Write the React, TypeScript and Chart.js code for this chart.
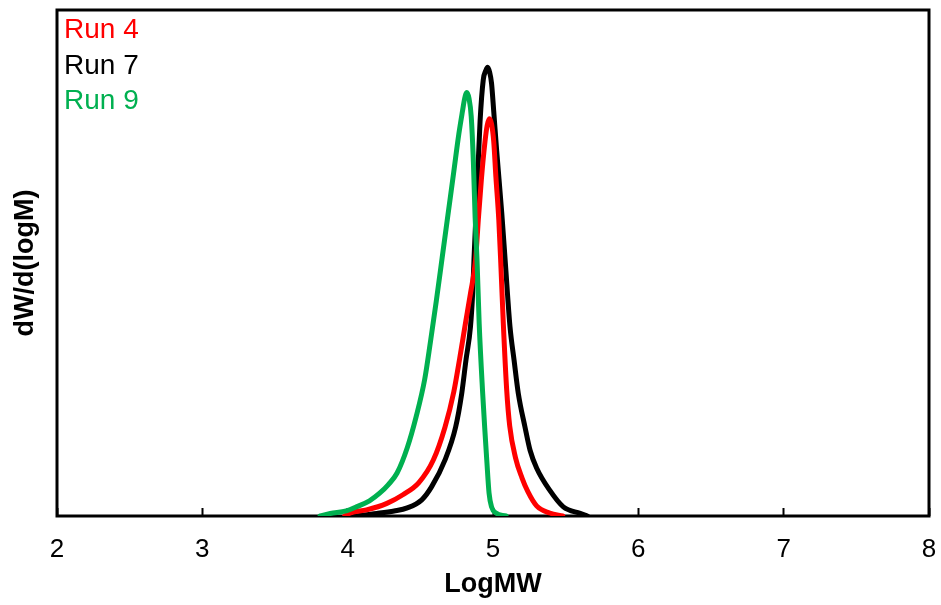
import React, { useEffect, useRef } from "react";
import { Chart, registerables } from "chart.js";

Chart.register(...registerables);

const xTicks = [2, 3, 4, 5, 6, 7, 8];
const seriesLabels = ["Run 4", "Run 7", "Run 9"];
const seriesColors = ["#FF0000", "#000000", "#00B050"];

const run4X = [3.98, 4.02, 4.13, 4.27, 4.38, 4.49, 4.59, 4.67, 4.73, 4.77, 4.81, 4.845, 4.88, 4.90, 4.92, 4.945, 4.96, 4.975, 4.99, 5.005, 5.02, 5.04, 5.055, 5.071, 5.094, 5.115, 5.155, 5.2, 5.24, 5.30, 5.39, 5.48];
const run4Y = [0, 0.006, 0.012, 0.025, 0.042, 0.066, 0.111, 0.176, 0.245, 0.31, 0.38, 0.44, 0.506, 0.59, 0.665, 0.74, 0.772, 0.785, 0.775, 0.74, 0.67, 0.585, 0.49, 0.38, 0.25, 0.178, 0.115, 0.075, 0.048, 0.02, 0.006, 0];

const run7X = [4.05, 4.2, 4.32, 4.41, 4.51, 4.578, 4.67, 4.743, 4.785, 4.814, 4.845, 4.86, 4.869, 4.888, 4.911, 4.933, 4.95, 4.963, 4.977, 4.99, 5.005, 5.025, 5.06, 5.085, 5.117, 5.145, 5.174, 5.22, 5.255, 5.30, 5.39, 5.484, 5.6, 5.65];
const run7Y = [0, 0.005, 0.01, 0.016, 0.032, 0.058, 0.111, 0.176, 0.2425, 0.308, 0.374, 0.44, 0.506, 0.63, 0.78, 0.862, 0.88, 0.887, 0.877, 0.855, 0.80, 0.723, 0.60, 0.50, 0.374, 0.308, 0.2425, 0.176, 0.13, 0.095, 0.051, 0.018, 0.005, 0];

const run9X = [3.81, 3.88, 3.99, 4.06, 4.15, 4.22, 4.28, 4.34, 4.41, 4.47, 4.53, 4.57, 4.61, 4.65, 4.69, 4.73, 4.765, 4.79, 4.805, 4.82, 4.835, 4.85, 4.865, 4.877, 4.89, 4.905, 4.929, 4.945, 4.957, 4.973, 4.99, 5.02, 5.09];
const run9Y = [0, 0.005, 0.01, 0.018, 0.03, 0.045, 0.062, 0.085, 0.135, 0.195, 0.27, 0.345, 0.425, 0.51, 0.595, 0.68, 0.755, 0.80, 0.825, 0.837, 0.825, 0.79, 0.70, 0.59, 0.506, 0.38, 0.2425, 0.165, 0.111, 0.045, 0.018, 0.006, 0];

const FONT = '"Liberation Sans", Arial, sans-serif';

function toPoints(xs: number[], ys: number[]) {
  return xs.map((x, i) => ({ x, y: ys[i] }));
}

const framePlugin = {
  id: "frame",
  beforeDatasetsDraw(chart: any) {
    const { ctx, chartArea } = chart;
    ctx.save();
    ctx.strokeStyle = "#000";
    ctx.lineWidth = 3;
    ctx.strokeRect(chartArea.left, chartArea.top, chartArea.right - chartArea.left, chartArea.bottom - chartArea.top);
    ctx.restore();
  },
};

const textLegendPlugin = {
  id: "textLegend",
  afterDraw(chart: any) {
    const { ctx, chartArea } = chart;
    ctx.save();
    ctx.font = `28px ${FONT}`;
    ctx.textAlign = "left";
    ctx.textBaseline = "alphabetic";
    chart.data.datasets.forEach((ds: any, i: number) => {
      ctx.fillStyle = ds.borderColor;
      ctx.fillText(ds.label, chartArea.left + 7, chartArea.top + 28 + i * 35.5);
    });
    ctx.restore();
  },
};

export default function App() {
  const ref = useRef<HTMLCanvasElement | null>(null);
  useEffect(() => {
    document.body.style.margin = "0";
    const canvas = ref.current;
    if (!canvas) return;
    const xsList = [run4X, run7X, run9X];
    const ysList = [run4Y, run7Y, run9Y];
    const orders = [2, 3, 1];
    const chart = new Chart(canvas, {
      type: "line",
      data: {
        datasets: seriesLabels.map((label, i) => ({
          label,
          data: toPoints(xsList[i], ysList[i]),
          borderColor: seriesColors[i],
          backgroundColor: seriesColors[i],
          borderWidth: 5,
          borderJoinStyle: "round" as const,
          borderCapStyle: "round" as const,
          pointRadius: 0,
          fill: false,
          cubicInterpolationMode: "monotone" as const,
          order: orders[i],
        })),
      },
      plugins: [framePlugin, textLegendPlugin],
      options: {
        animation: false,
        responsive: false,
        maintainAspectRatio: false,
        layout: { padding: { top: 10, right: 12, left: 0, bottom: 0 } },
        plugins: {
          legend: { display: false },
          tooltip: { enabled: false },
        },
        scales: {
          x: {
            type: "linear",
            min: 2,
            max: 8,
            afterBuildTicks: (scale: any) => {
              scale.ticks = xTicks.map((v) => ({ value: v }));
            },
            afterFit: (scale: any) => {
              scale.height = 89;
              scale.paddingLeft = 0;
              scale.paddingRight = 0;
            },
            ticks: {
              color: "#000",
              font: { family: FONT, size: 26 },
              padding: 26,
              maxRotation: 0,
            },
            grid: {
              drawOnChartArea: false,
              tickLength: -8,
              tickWidth: 2,
              color: "#000",
            },
            border: { display: false },
            title: {
              display: true,
              text: "LogMW",
              color: "#000",
              font: { family: FONT, size: 27, weight: "bold" },
              padding: { top: 0, bottom: 4 },
            },
          },
          y: {
            type: "linear",
            min: 0,
            max: 1,
            afterFit: (scale: any) => {
              scale.width = 57;
            },
            ticks: { display: false },
            grid: { display: false },
            border: { display: false },
            title: {
              display: true,
              text: "dW/d(logM)",
              color: "#000",
              font: { family: FONT, size: 27, weight: "bold" },
              padding: { top: 9, bottom: 0 },
            },
          },
        },
      },
    });
    return () => chart.destroy();
  }, []);
  return (
    <div style={{ width: 941, height: 605 }}>
      <canvas ref={ref} width={941} height={605} style={{ display: "block" }} />
    </div>
  );
}
